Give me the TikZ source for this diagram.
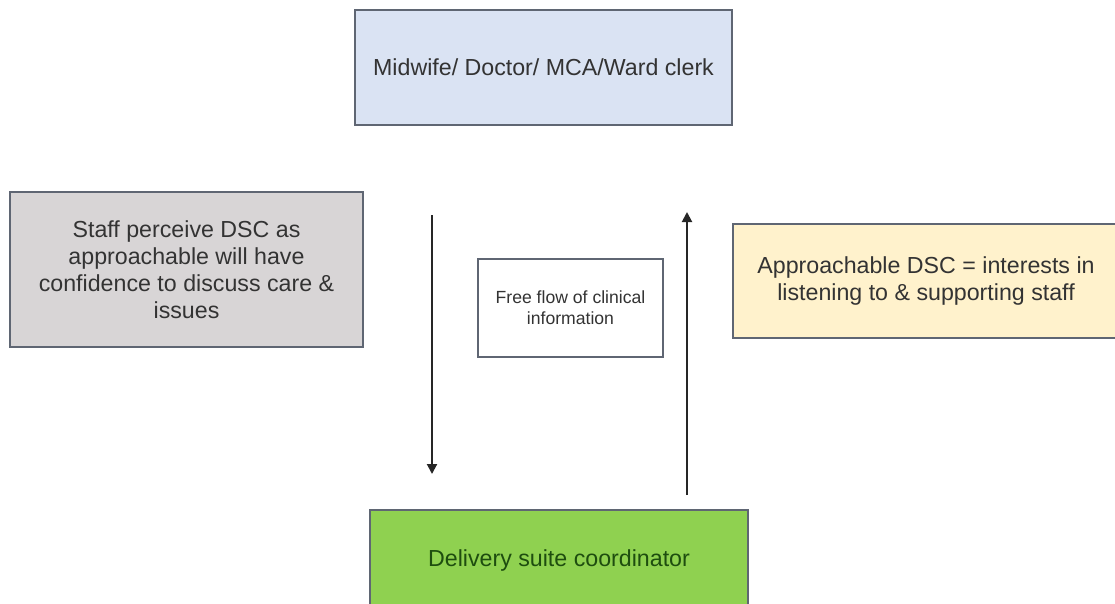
\documentclass[tikz,border=0pt]{standalone}
\usepackage{fontspec}
\setmainfont{Liberation Sans}
\usetikzlibrary{arrows.meta, positioning}
\definecolor{topblue}{HTML}{DAE3F3}
\definecolor{staffgrey}{HTML}{D8D5D6}
\definecolor{dscyellow}{HTML}{FFF2CC}
\definecolor{coordgreen}{HTML}{8FD150}
\definecolor{edgegrey}{HTML}{5F6673}
\definecolor{textgrey}{HTML}{333333}
\definecolor{textgreen}{HTML}{1E4D0F}

\begin{document}
\begin{tikzpicture}[
  x=1pt, y=-1pt,
  box/.style={rectangle, draw=edgegrey, line width=1.5pt, align=center,
              text=textgrey, inner sep=0pt,
              font=\fontsize{23.2}{27}\selectfont},
  infobox/.style={box, fill=white, font=\fontsize{17.6}{21}\selectfont},
  arrow/.style={-{Triangle[length=10pt, width=10pt]}, line width=2pt, black!85}
]
\useasboundingbox (0,0) rectangle (1115,603);

\node[box, fill=topblue, minimum width=377pt, minimum height=115pt] (staff) at (543.5,67.5)
  {Midwife/ Doctor/ MCA/Ward clerk};
\node[box, fill=staffgrey, minimum width=353pt, minimum height=155pt] (perceive) at (186.5,269.5)
  {Staff perceive DSC as\\approachable will have\\confidence to discuss care \&\\issues};
\node[infobox, minimum width=185pt, minimum height=98pt] (flow) at (570.5,308)
  {Free flow of clinical\\information};
\node[box, fill=dscyellow, minimum width=386pt, minimum height=114pt] (approach) at (926,281)
  {Approachable DSC = interests in\\listening to \& supporting staff};
\node[box, fill=coordgreen, text=textgreen, minimum width=378pt, minimum height=100pt] (dsc) at (559,560)
  {Delivery suite coordinator};

% arrows between the two rows
\coordinate (downA) at (432,215);
\coordinate (downB) at (432,474);
\coordinate (upA) at (687,495);
\coordinate (upB) at (687,212);
\draw[arrow] (downA) -- (downB);
\draw[arrow] (upA) -- (upB);

\end{tikzpicture}
\end{document}
